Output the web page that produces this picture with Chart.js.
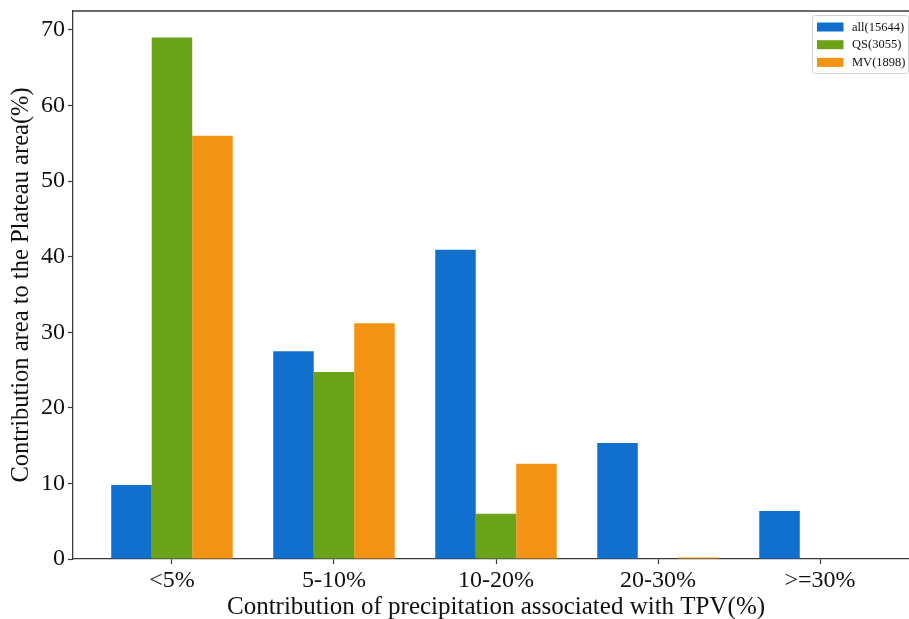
<!DOCTYPE html>
<html>
<head>
<meta charset="utf-8">
<script src="https://cdn.jsdelivr.net/npm/chart.js@4"></script>
<style>
  html, body { margin: 0; padding: 0; background: #fff; overflow: hidden; }
  canvas { display: block; }
</style>
</head>
<body>
<canvas id="chart" width="930" height="619"></canvas>
<script>
// categories along x
const categories = ["<5%", "5-10%", "10-20%", "20-30%", ">=30%"];
// contribution area (%) per category
const allValues = [9.8, 27.5, 40.9, 15.35, 6.35];
const qsValues = [69.0, 24.75, 6.0, 0, 0];
const mvValues = [56.0, 31.2, 12.6, 0.2, 0];
const seriesLabels = ["all(15644)", "QS(3055)", "MV(1898)"];
const yTicks = [0, 10, 20, 30, 40, 50, 60, 70];

const serif = "'Liberation Serif', 'Times New Roman', serif";
const spine = "#3a3a3a";

const toPoints = vals => vals.map((v, i) => ({ x: i, y: v }));

// keep the plot box exactly where the layout padding puts it
const noEdgePadding = s => {
  s.paddingTop = 0;
  s.paddingBottom = 0;
  s.paddingLeft = 0;
  s.paddingRight = 0;
};

// top/right spines
const frame = {
  id: "frame",
  afterDraw(chart) {
    const { ctx, chartArea: a } = chart;
    ctx.save();
    ctx.strokeStyle = spine;
    ctx.lineWidth = 1.3;
    ctx.beginPath();
    ctx.moveTo(a.left, a.top);
    ctx.lineTo(a.right, a.top);
    ctx.lineTo(a.right, a.bottom);
    ctx.stroke();
    ctx.restore();
  }
};

// boxed legend in the upper right corner
const boxLegend = {
  id: "boxLegend",
  afterDraw(chart) {
    const { ctx, chartArea: a } = chart;
    const sets = chart.data.datasets;
    const w = 96, rowH = 17.7, h = 58;
    const x = a.right - 107, y = a.top + 4;
    ctx.save();
    ctx.fillStyle = "rgba(255,255,255,0.85)";
    ctx.strokeStyle = "#d0d0d0";
    ctx.lineWidth = 1;
    ctx.beginPath();
    ctx.roundRect(x + 0.5, y + 0.5, w, h, 3);
    ctx.fill();
    ctx.stroke();
    ctx.font = "12.5px " + serif;
    ctx.textBaseline = "middle";
    sets.forEach((ds, i) => {
      const cy = y + 12 + i * rowH;
      ctx.fillStyle = ds.backgroundColor;
      ctx.fillRect(x + 5, cy - 4.5, 26.5, 9);
      ctx.fillStyle = "#111";
      ctx.fillText(ds.label, x + 40, cy + 0.5);
    });
    ctx.restore();
  }
};

new Chart(document.getElementById("chart"), {
  type: "bar",
  data: {
    datasets: [
      { label: seriesLabels[0], data: toPoints(allValues), backgroundColor: "#1170cd" },
      { label: seriesLabels[1], data: toPoints(qsValues), backgroundColor: "#6ba318" },
      { label: seriesLabels[2], data: toPoints(mvValues), backgroundColor: "#f39314" }
    ]
  },
  options: {
    responsive: false,
    animation: false,
    layout: { padding: { left: 0, right: 11, top: 11, bottom: 0 } },
    datasets: { bar: { barPercentage: 1.0, categoryPercentage: 0.75 } },
    plugins: { legend: { display: false }, tooltip: { enabled: false } },
    scales: {
      x: {
        type: "linear",
        min: -0.611,
        max: 4.611,
        offset: false,
        afterFit: s => { s.height = 60; noEdgePadding(s); },
        grid: { offset: false, drawOnChartArea: false, tickLength: 5, color: spine, tickWidth: 1.2 },
        border: { color: spine, width: 1.3 },
        ticks: {
          stepSize: 1,
          includeBounds: false,
          autoSkip: false,
          maxRotation: 0,
          padding: 2,
          color: "#111",
          font: { family: serif, size: 24 },
          callback: v => categories[v] ?? ""
        },
        title: {
          display: true,
          text: "Contribution of precipitation associated with TPV(%)",
          color: "#111",
          font: { family: serif, size: 25, lineHeight: 1.1 },
          padding: { top: 0, bottom: -2 }
        }
      },
      y: {
        min: 0,
        max: 72.5,
        afterFit: s => { s.width = 73; noEdgePadding(s); },
        afterBuildTicks: s => { s.ticks = yTicks.map(v => ({ value: v })); },
        grid: { drawOnChartArea: false, tickLength: 5, color: spine, tickWidth: 1.2 },
        border: { color: spine, width: 1.3 },
        ticks: {
          padding: 3,
          color: "#111",
          font: { family: serif, size: 24 }
        },
        title: {
          display: true,
          text: "Contribution area to the Plateau area(%)",
          color: "#111",
          font: { family: serif, size: 24.5, lineHeight: 1.1 },
          padding: { top: 8, bottom: 0 }
        }
      }
    }
  },
  plugins: [frame, boxLegend]
});
</script>
</body>
</html>
